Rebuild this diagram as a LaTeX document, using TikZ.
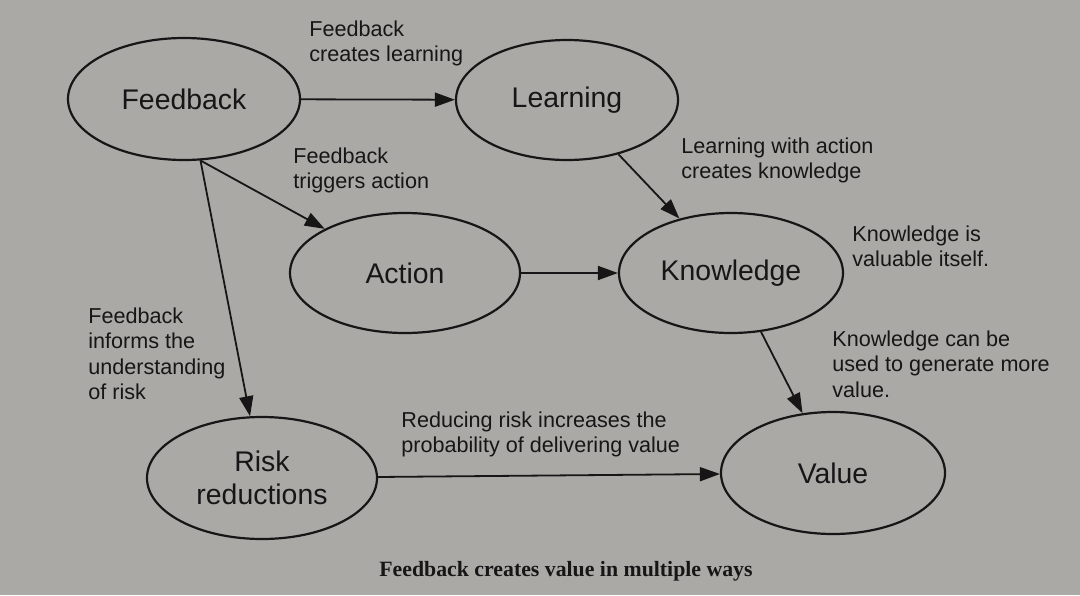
\documentclass[tikz,border=0pt]{standalone}
\usepackage{fontspec}
\setmainfont{Liberation Sans}
\newfontfamily\capfont{Liberation Serif}
\usetikzlibrary{shapes.geometric,arrows.meta}
\definecolor{paper}{RGB}{171,169,166}
\definecolor{ink}{RGB}{22,22,22}
\tikzset{
  bubble/.style={draw=ink, line width=1.1pt, ellipse, inner sep=0pt, align=center,
    text=ink, font=\fontsize{14.2}{16.5}\selectfont},
  note/.style={anchor=north west, inner sep=0pt, align=left, text=ink,
    font=\fontsize{10.8}{12.8}\selectfont},
  flow/.style={draw=ink, line width=0.9pt, -{Triangle[length=10pt,width=7pt]}},
}

\begin{document}
\begin{tikzpicture}[x=0.5pt,y=-0.5pt]
\fill[paper] (0,0) rectangle (1080,595);
\useasboundingbox (0,0) rectangle (1080,595);
% the six bubbles
\node[bubble, minimum width=116pt, minimum height=61pt] (fb) at (184,99) {Feedback};
\node[bubble, minimum width=111pt, minimum height=60pt] (learn) at (567,100) {Learning};
\node[bubble, minimum width=115pt, minimum height=60pt] (act) at (405,273) {Action};
\node[bubble, minimum width=112pt, minimum height=60pt] (know) at (731,273) {Knowledge};
\node[bubble, minimum width=115pt, minimum height=61pt] (risk) at (262,478) {Risk\\reductions};
\node[bubble, minimum width=112pt, minimum height=61pt] (val) at (833,473) {Value};
% arrows
\coordinate (fbfoot) at (fb.-75);
\draw[flow] (fb) -- (learn);
\draw[flow] (fbfoot) -- (act);
\draw[flow] (fbfoot) -- (risk);
\draw[flow] (learn) -- (know);
\draw[flow] (act) -- (know);
\draw[flow] (know) -- (val);
\draw[flow] (risk) -- (val);
% notes
\node[note] (noteLearn) at (309,20) {Feedback\\creates learning};
\node[note] (noteAct) at (293,147) {Feedback\\triggers action};
\node[note] (noteKnow) at (681,137) {Learning with action\\creates knowledge};
\node[note] (noteSelf) at (852,225) {Knowledge is\\valuable itself.};
\node[note] (noteRisk) at (88,307) {Feedback\\informs the\\understanding\\of risk};
\node[note] (noteMore) at (832,330) {Knowledge can be\\used to generate more\\value.};
\node[note] (noteProb) at (401,411) {Reducing risk increases the\\probability of delivering value};
% caption
\node[anchor=base, inner sep=0pt, text=ink, font=\capfont\bfseries\fontsize{10.9}{13}\selectfont] (caption) at (566,576) {Feedback creates value in multiple ways};
\end{tikzpicture}
\end{document}
